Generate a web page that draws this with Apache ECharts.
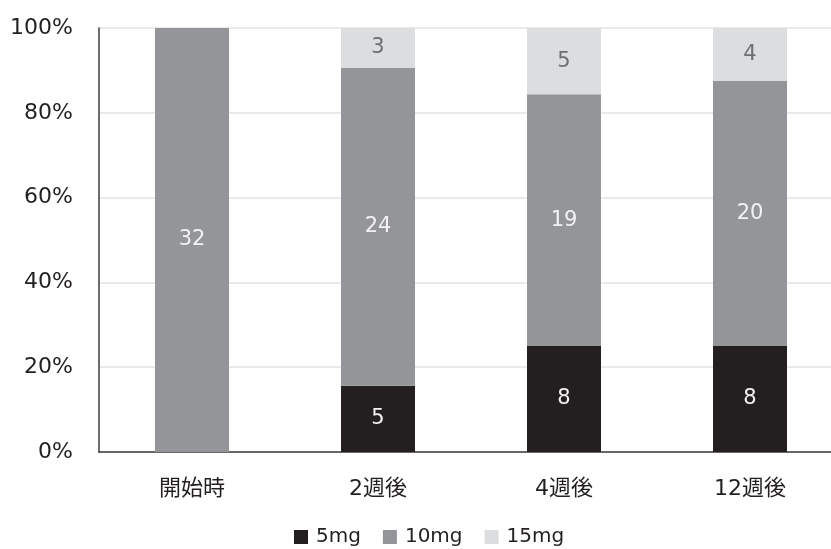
<!DOCTYPE html>
<html>
<head>
<meta charset="utf-8">
<script src="https://cdn.jsdelivr.net/npm/echarts@6/dist/echarts.min.js"></script>
<style>
  html, body { margin: 0; padding: 0; background: #ffffff; }
  #chart { width: 831px; height: 549px; }
</style>
</head>
<body>
<div id="chart"></div>
<script>
// Patient counts per dose at each visit
const categories = ['開始時', '2週後', '4週後', '12週後'];
const dose5mg = [0, 5, 8, 8];
const dose10mg = [32, 24, 19, 20];
const dose15mg = [0, 3, 5, 4];
const yTicks = [0, 20, 40, 60, 80, 100];

const FONT = '"DejaVu Sans", "Noto Sans CJK JP", sans-serif';

const totals = categories.map((_, i) => dose5mg[i] + dose10mg[i] + dose15mg[i]);

// Convert counts into share of the visit total, keeping the count for the label
function toShare(counts) {
  return counts.map((c, i) => ({ value: c / totals[i] * 100, count: c }));
}

function makeSeries(name, counts, color, labelColor) {
  return {
    name: name,
    type: 'bar',
    stack: 'dose',
    barWidth: 74,
    data: toShare(counts),
    itemStyle: { color: color },
    label: {
      show: true,
      position: 'inside',
      color: labelColor,
      fontFamily: FONT,
      fontSize: 21,
      formatter: p => (p.data.count > 0 ? String(p.data.count) : '')
    },
    emphasis: { disabled: true }
  };
}

const chart = echarts.init(document.getElementById('chart'), null, { renderer: 'canvas' });

// The plot area runs a little past the right edge of the canvas
chart.setOption({
  animation: false,
  backgroundColor: '#ffffff',
  grid: {
    left: 99, width: 744, top: 28, bottom: 97,
    containLabel: false,
    outerBoundsMode: 'none'
  },
  legend: {
    data: ['5mg', '10mg', '15mg'],
    left: 289,
    top: 522,
    icon: 'rect',
    itemWidth: 14,
    itemHeight: 14,
    itemGap: 22,
    textStyle: {
      fontFamily: FONT,
      fontSize: 20,
      color: '#231f20',
      padding: [0, 0, 0, 3]
    }
  },
  xAxis: {
    type: 'category',
    data: categories,
    axisTick: { show: false },
    axisLine: { show: true, lineStyle: { color: '#3d3d3d', width: 1.5 } },
    axisLabel: {
      fontFamily: FONT,
      fontSize: 22,
      color: '#231f20',
      margin: 26
    }
  },
  yAxis: {
    type: 'value',
    min: yTicks[0],
    max: yTicks[yTicks.length - 1],
    interval: yTicks[1] - yTicks[0],
    axisTick: { show: false },
    axisLine: { show: true, lineStyle: { color: '#3d3d3d', width: 1.5 } },
    splitLine: { show: true, lineStyle: { color: '#e3e3e3', width: 1.5 } },
    axisLabel: {
      fontFamily: FONT,
      fontSize: 22,
      color: '#231f20',
      margin: 26,
      padding: [0, 0, 8, 0],
      formatter: '{value}%'
    }
  },
  series: [
    makeSeries('5mg', dose5mg, '#231f20', '#f2f2f2'),
    makeSeries('10mg', dose10mg, '#939598', '#f2f2f2'),
    makeSeries('15mg', dose15mg, '#dcdddf', '#6d6e71')
  ]
});
</script>
</body>
</html>
